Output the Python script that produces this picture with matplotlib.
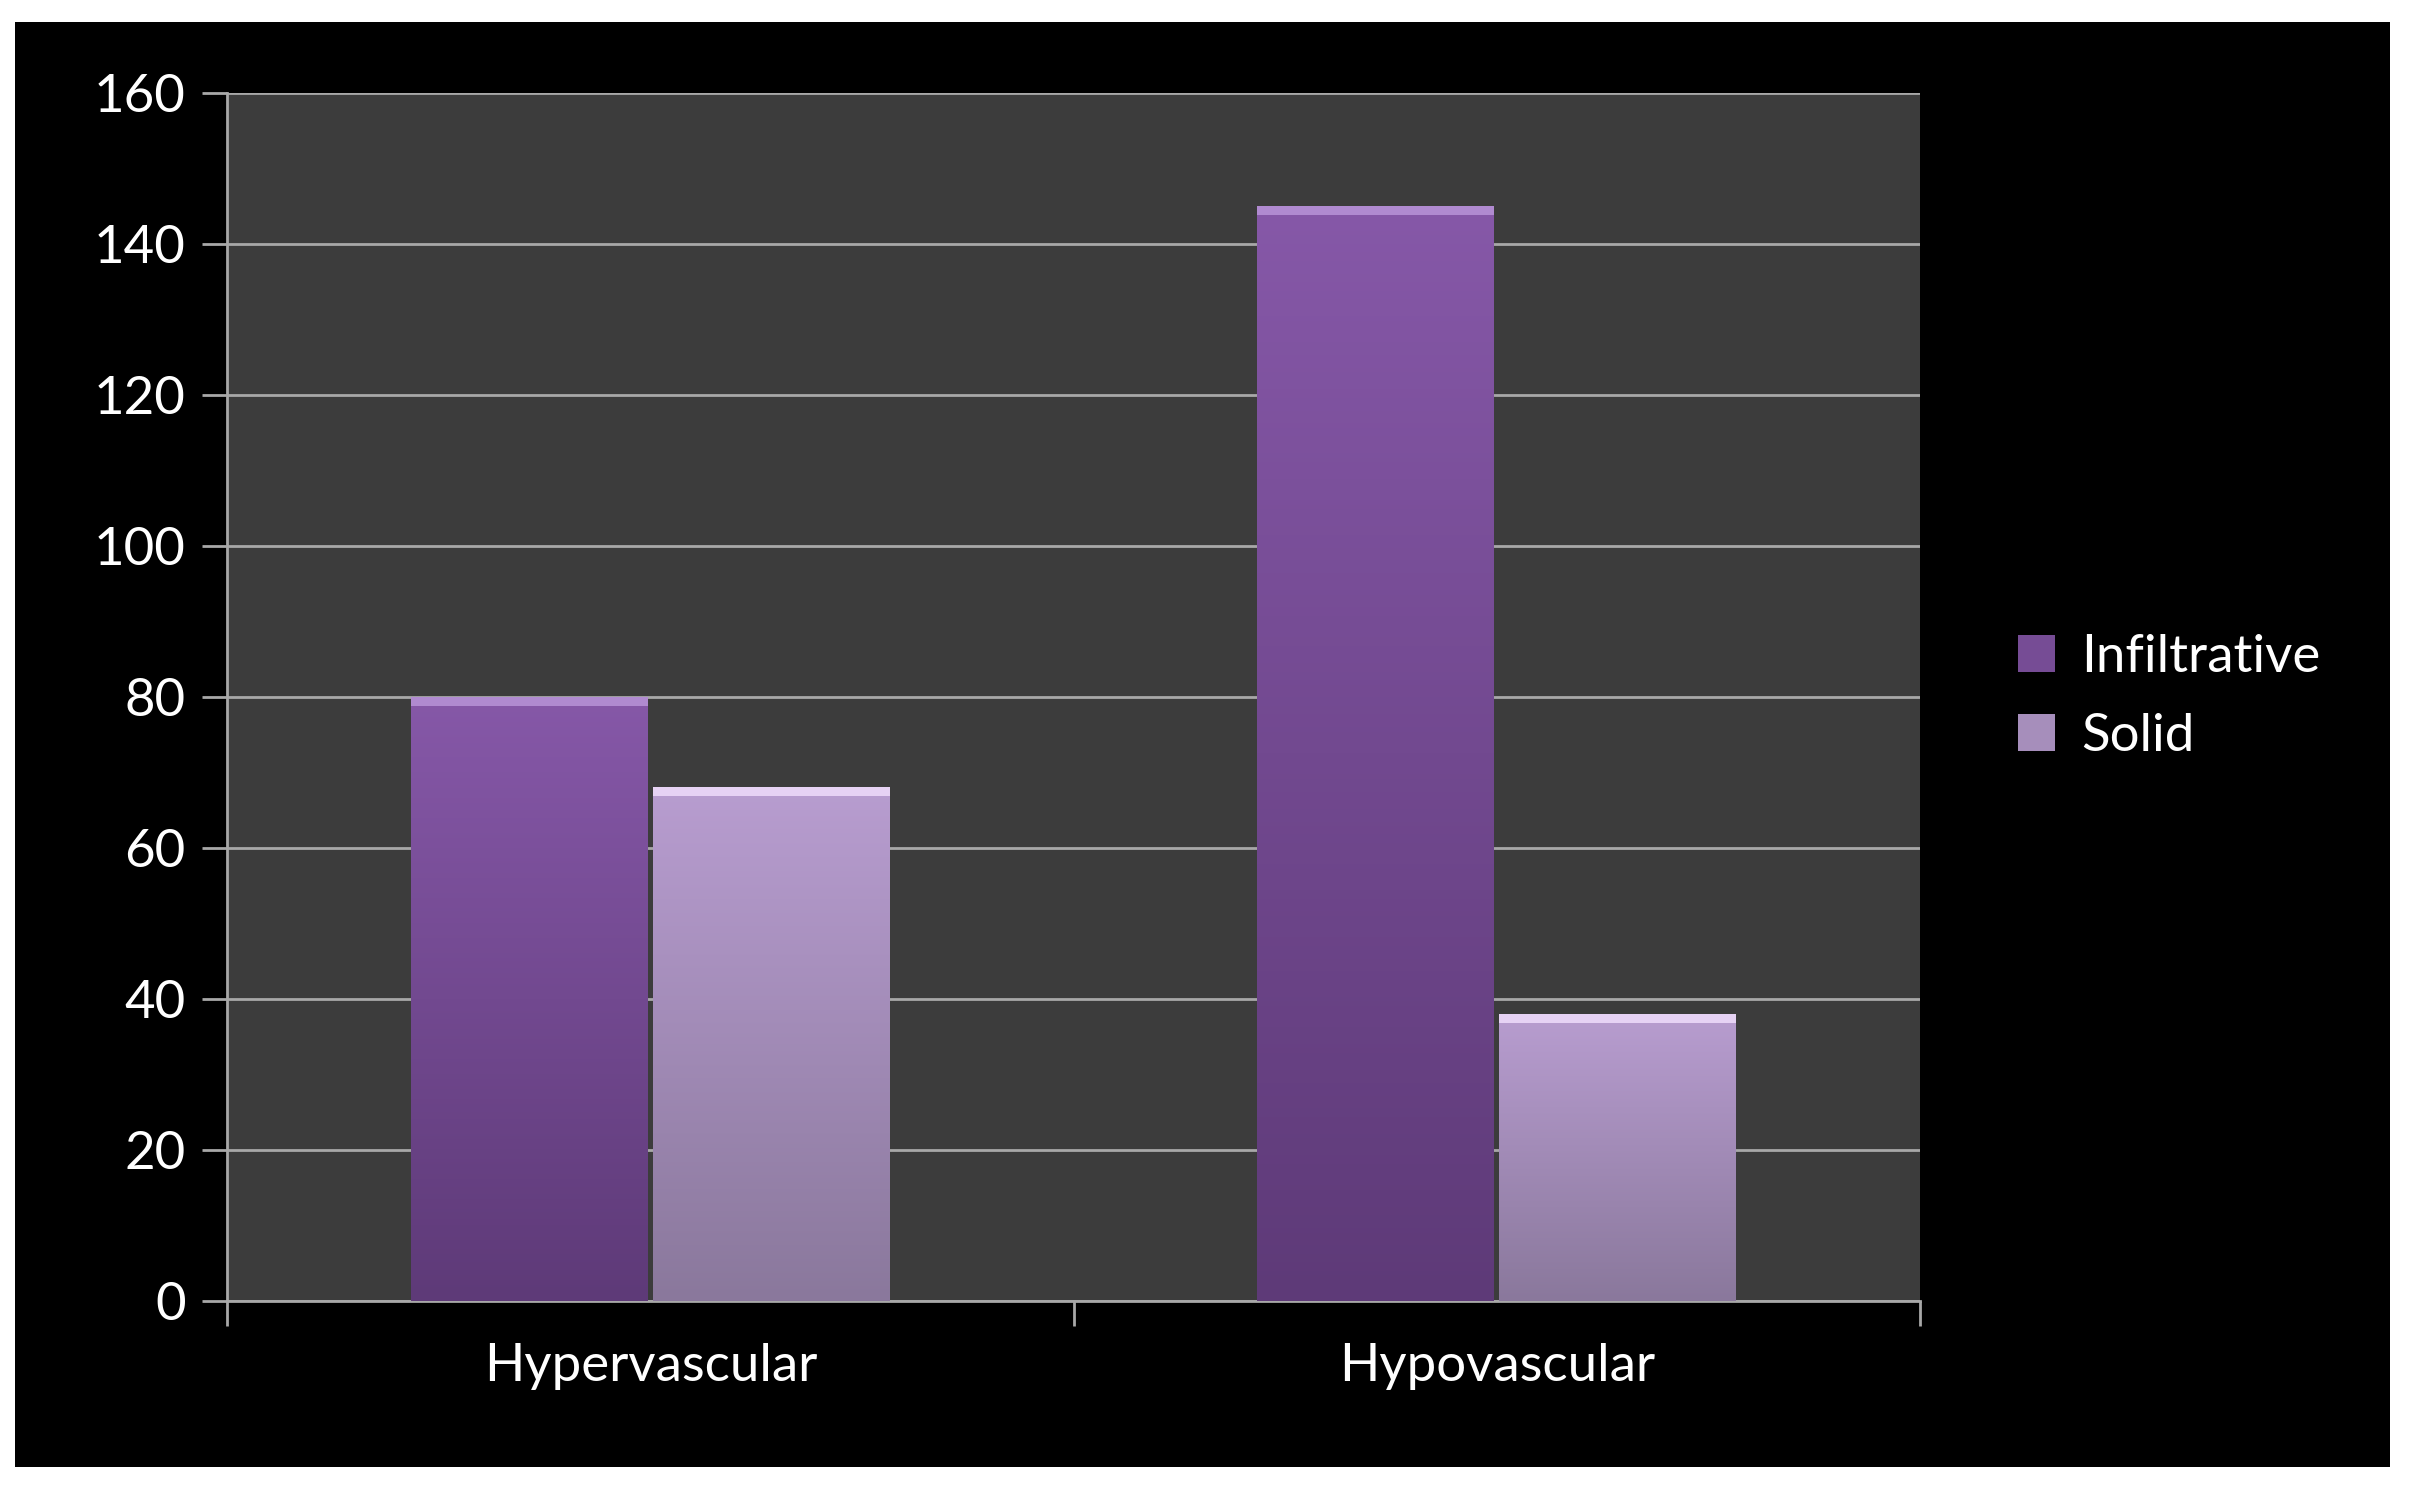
import numpy as np
import matplotlib
matplotlib.use("Agg")
from matplotlib import pyplot as plt
from matplotlib.patches import Rectangle
from matplotlib.colors import LinearSegmentedColormap

categories = ["Hypervascular", "Hypovascular"]
infiltrative = [80, 145]
solid = [68, 38]
series_names = ["Infiltrative", "Solid"]
yticks = [0, 20, 40, 60, 80, 100, 120, 140, 160]

plt.rcParams['font.family'] = ['Lato', 'DejaVu Sans']

fig = plt.figure(figsize=(24.09, 14.92), dpi=100)
fig.patch.set_facecolor("white")

# black backdrop inside the white border
bg = fig.add_axes([0.0064, 0.0165, 0.9856, 0.9685], zorder=-10)
bg.set_facecolor("black")
bg.set_xticks([])
bg.set_yticks([])
for s in bg.spines.values():
    s.set_visible(False)

ax = fig.add_axes([0.0944, 0.128, 0.7026, 0.81])
ax.set_facecolor("#3c3c3c")
ax.set_xlim(0, 2)
ax.set_ylim(0, 160)
ax.set_yticks(yticks)
ax.yaxis.grid(True, color="#a8a8a8", linewidth=2)
ax.set_axisbelow(True)
for s in ["top", "right"]:
    ax.spines[s].set_visible(False)
for s in ["left", "bottom"]:
    ax.spines[s].set_color("#a8a8a8")
    ax.spines[s].set_linewidth(2)
ax.set_xticks([0, 1, 2])
ax.set_xticklabels([])
ax.set_xticks([0.5, 1.5], minor=True)
ax.set_xticklabels(categories, minor=True)
ax.tick_params(axis="x", which="minor", length=0, pad=30, labelsize=38, labelcolor="white")
ax.tick_params(axis="x", which="major", length=18, width=2, color="#a8a8a8", direction="out")
ax.tick_params(axis="y", length=18, width=2, color="#a8a8a8", labelsize=38, labelcolor="white", pad=12)

cmaps = [LinearSegmentedColormap.from_list("inf", ["#5e3a78", "#8658a8"]),
         LinearSegmentedColormap.from_list("sol", ["#8a789c", "#b89dd0"])]
tops = ["#b08ad0", "#e6d2f4"]
width = 0.28
offsets = [-0.143, 0.143]
grad = np.linspace(0, 1, 256).reshape(-1, 1)
for si, vals in enumerate([infiltrative, solid]):
    xs = np.arange(len(categories)) + 0.5 + offsets[si]
    bars = ax.bar(xs, vals, width, color=cmaps[si](0.6), edgecolor="none", zorder=2,
                  label=series_names[si])
    for b, v in zip(bars, vals):
        x0 = b.get_x()
        im = ax.imshow(grad, cmap=cmaps[si], aspect="auto", origin="lower",
                       extent=(x0, x0 + width, 0, v), zorder=3)
        im.set_clip_path(b)
        ax.add_patch(Rectangle((x0, v - 1.2), width, 1.2, facecolor=tops[si],
                               edgecolor="none", zorder=4))
ax.set_xlim(0, 2)
ax.set_ylim(0, 160)

leg = ax.legend(loc="center left", bbox_to_anchor=(1.03, 0.5), frameon=False,
                fontsize=38, labelcolor="white", handlelength=0.7, handleheight=0.7,
                handletextpad=0.5, labelspacing=0.6)
fig.savefig("out.png", dpi=100, facecolor=fig.get_facecolor())
